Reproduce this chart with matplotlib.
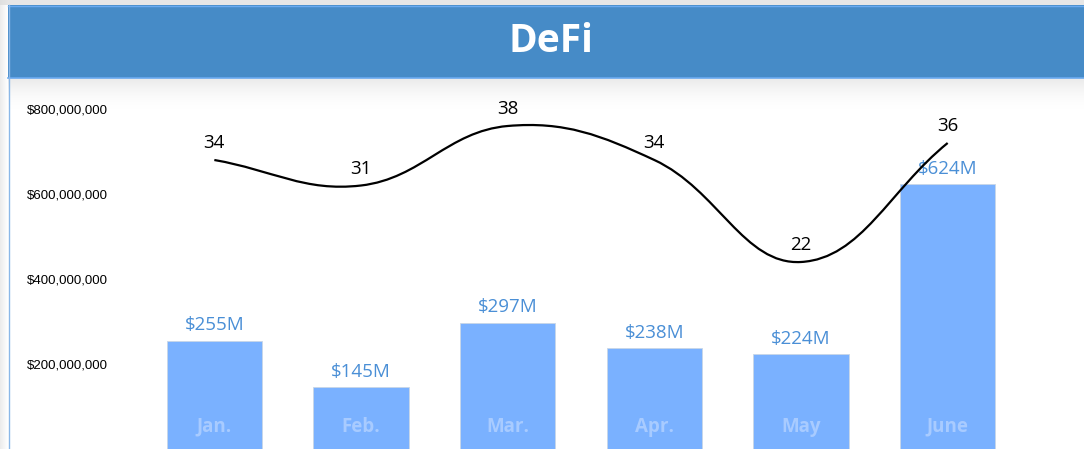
import numpy as np
import matplotlib
matplotlib.use("Agg")
import matplotlib.pyplot as plt
from matplotlib.path import Path
from matplotlib.patches import PathPatch, Rectangle

# data
months = ["Jan.", "Feb.", "Mar.", "Apr.", "May", "June"]
volume = [255e6, 145e6, 297e6, 238e6, 224e6, 624e6]
volume_labels = ["$255M", "$145M", "$297M", "$238M", "$224M", "$624M"]
counts = [34, 31, 38, 34, 22, 36]
yticks = [200e6, 400e6, 600e6, 800e6]

W, H = 1084, 449
DPI = 100
LABEL_FONT = ["Open Sans", "DejaVu Sans"]

fig = plt.figure(figsize=(W / DPI, H / DPI), dpi=DPI)
fig.patch.set_facecolor("white")

# background layer in pixel coordinates
bg = fig.add_axes([0, 0, 1, 1], zorder=0)
bg.set_xlim(0, W)
bg.set_ylim(H, 0)
bg.axis("off")

# soft shadow around the card
grad = np.linspace(0, 1, 64).reshape(-1, 1)
bg.imshow(np.dstack([np.full_like(grad, 0.82)] * 3 + [0.45 * (1 - grad) ** 1.8]),
          extent=(8, W, 112, 78), aspect="auto", interpolation="bilinear", zorder=1)
bg.add_patch(Rectangle((0, 0), W, 5, color="#e6e6e6", zorder=1, lw=0))
side = np.linspace(1, 0, 32).reshape(1, -1)
bg.imshow(np.dstack([np.full_like(side, 0.85)] * 3 + [0.5 * side]),
          extent=(0, 8, H, 0), aspect="auto", interpolation="bilinear", zorder=1)

# header bar
bg.add_patch(Rectangle((8, 5), W - 8, 73, facecolor="#468bc7", edgecolor="none", zorder=2))
bg.plot([8, W], [5.5, 5.5], color="#6aaaf0", lw=1, zorder=3)
bg.plot([8, W], [77.5, 77.5], color="#6aaaf0", lw=1.2, zorder=3)
bg.plot([8.5, 8.5], [5, H], color="#8bb8e8", lw=1, zorder=3)
bg.text(551, 41, "DeFi", color="white", fontsize=28, fontweight="bold",
        family=LABEL_FONT, ha="center", va="center", zorder=4)

# main chart area
left, right, top = 141, 1021, 109
ax = fig.add_axes([left / W, 0, (right - left) / W, (H - top) / H], zorder=2)
ax.set_facecolor("none")
x = np.arange(len(months))
ax.set_xlim(-0.5, len(months) - 0.5)
ax.set_ylim(0, 800e6)

ax.bar(x, volume, width=0.65, color="#7ab1ff", edgecolor="#c9d6e6",
       linewidth=0.6, zorder=2)
for xi, v, lab, m in zip(x, volume, volume_labels, months):
    ax.annotate(lab, (xi, v), xytext=(0, 11), textcoords="offset points",
                ha="center", va="center", color="#4a8fd6", fontsize=13.5,
                family=LABEL_FONT, zorder=5)
    ax.annotate(m, (xi, 0), xytext=(0, 16), textcoords="offset points",
                ha="center", va="center", color="#a8cbff", fontsize=13.5,
                fontweight="bold", family=LABEL_FONT, zorder=4)

ax.set_yticks(yticks)
ax.set_yticklabels([f"${t:,.0f}" for t in yticks], fontsize=9.5,
                   family=["Liberation Sans", "DejaVu Sans"])
ax.tick_params(axis="y", length=0, pad=24)
ax.set_xticks([])
for s in ax.spines.values():
    s.set_visible(False)

# count line on its own scale (0..40 spans the same height as 0..800M)
ax2 = ax.twinx()
ax2.set_zorder(3)
ax2.set_ylim(0, 40)
ax2.axis("off")

# Chart.js style spline (tension 0.4) computed in pixel space
pts = ax2.transData.transform(np.column_stack([x, counts]))
tension = 0.4
n = len(pts)
cp_prev, cp_next = [], []
for i in range(n):
    prev = pts[i - 1] if i > 0 else pts[i]
    nxt = pts[i + 1] if i < n - 1 else pts[i]
    d01 = np.hypot(*(pts[i] - prev))
    d12 = np.hypot(*(nxt - pts[i]))
    tot = d01 + d12
    s01 = d01 / tot if tot else 0
    s12 = d12 / tot if tot else 0
    cp_prev.append(pts[i] - tension * s01 * (nxt - prev))
    cp_next.append(pts[i] + tension * s12 * (nxt - prev))

verts = [pts[0]]
codes = [Path.MOVETO]
for i in range(n - 1):
    verts += [cp_next[i], cp_prev[i + 1], pts[i + 1]]
    codes += [Path.CURVE4] * 3
verts = ax2.transData.inverted().transform(np.array(verts))
ax2.add_patch(PathPatch(Path(verts, codes), facecolor="none", edgecolor="black",
                        lw=1.6, clip_on=False, zorder=3))

for xi, c in zip(x, counts):
    ax2.annotate(str(c), (xi, c), xytext=(0, 12), textcoords="offset points",
                 ha="center", va="center", color="black", fontsize=13.5,
                 family=LABEL_FONT, annotation_clip=False)

fig.savefig("out.png", dpi=DPI)
